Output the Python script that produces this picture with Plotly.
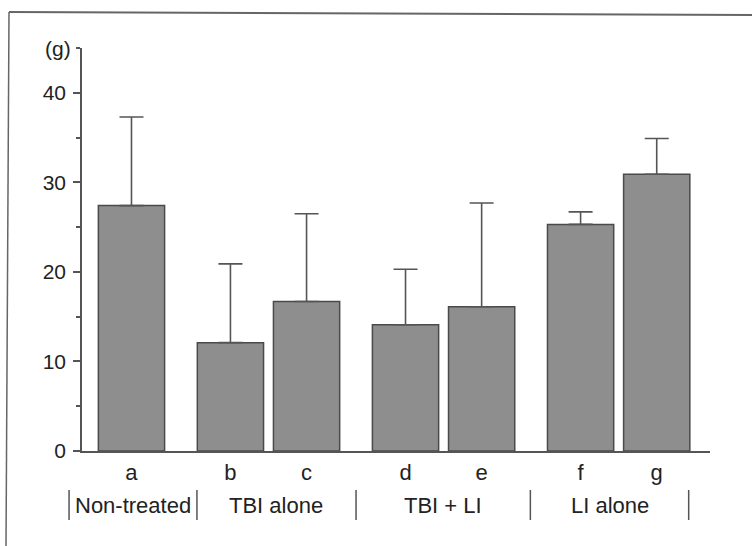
import plotly.graph_objects as go

# ---- data ----
categories = ["a", "b", "c", "d", "e", "f", "g"]
positions = [0.0, 1.3, 2.3, 3.6, 4.6, 5.9, 6.9]
means = [27.4, 12.1, 16.7, 14.1, 16.1, 25.3, 30.9]
sd_plus = [9.9, 8.8, 9.8, 6.2, 11.6, 1.4, 4.0]
groups = ["Non-treated", "TBI alone", "TBI + LI", "LI alone"]
group_bounds = [-0.82, 0.86, 2.95, 5.24, 7.32]   # separator positions (x units)
y_ticks = [0, 10, 20, 30, 40]
y_unit = "(g)"

# ---- layout geometry ----
W, H = 752, 546
ML, MR, MT, MB = 82, 42, 48, 95
X_RANGE = [-0.65, 7.6]
Y_RANGE = [0, 45]
PW, PH = W - ML - MR, H - MT - MB

def px_x(px):
    return (px - ML) / PW

def px_y(py):
    return (H - MB - py) / PH

def xd_to_paper(xd):
    return (xd - X_RANGE[0]) / (X_RANGE[1] - X_RANGE[0])

FONT = "Liberation Sans, Arial, Helvetica, sans-serif"

fig = go.Figure()
fig.add_trace(go.Bar(
    x=positions, y=means, width=[0.87] * len(means),
    marker=dict(color="#8e8e8e", line=dict(color="#4a4a4a", width=1.5)),
    error_y=dict(type="data", array=sd_plus, arrayminus=[0] * len(sd_plus),
                 symmetric=False, color="#555555", thickness=1.6, width=12),
    showlegend=False,
))

shapes = []
# separators between the group labels
for b in group_bounds:
    shapes.append(dict(type="line", xref="paper", yref="paper",
                       x0=xd_to_paper(b), x1=xd_to_paper(b),
                       y0=px_y(490), y1=px_y(520),
                       line=dict(color="#555555", width=1.5)))
# scanned frame (left and top edges)
shapes.append(dict(type="line", xref="paper", yref="paper",
                   x0=px_x(9), x1=px_x(6), y0=px_y(12), y1=px_y(546),
                   line=dict(color="#666666", width=1.5)))
shapes.append(dict(type="line", xref="paper", yref="paper",
                   x0=px_x(9), x1=px_x(752), y0=px_y(12), y1=px_y(15),
                   line=dict(color="#666666", width=1.8)))

annotations = []
for i, g in enumerate(groups):
    mid = (group_bounds[i] + group_bounds[i + 1]) / 2
    annotations.append(dict(text=g, xref="x", yref="paper", x=mid, y=px_y(505),
                            showarrow=False, xanchor="center", yanchor="middle",
                            font=dict(family=FONT, size=22, color="#222222")))
annotations.append(dict(text=y_unit, xref="paper", yref="y", x=px_x(73), y=Y_RANGE[1],
                        showarrow=False, xanchor="right", yanchor="middle",
                        font=dict(family=FONT, size=21, color="#222222")))

fig.update_layout(
    width=W, height=H,
    margin=dict(l=ML, r=MR, t=MT, b=MB, autoexpand=False),
    paper_bgcolor="white", plot_bgcolor="white",
    shapes=shapes, annotations=annotations,
    xaxis=dict(range=X_RANGE, tickvals=positions, ticktext=categories,
               showline=True, linecolor="#555555", linewidth=1.5,
               ticks="", showgrid=False, zeroline=False,
               tickfont=dict(family=FONT, size=22, color="#222222"),
               ticklabelstandoff=1),
    yaxis=dict(range=Y_RANGE, tickvals=y_ticks,
               showline=True, linecolor="#555555", linewidth=1.5,
               ticks="outside", ticklen=7, tickwidth=1.5, tickcolor="#555555",
               minor=dict(dtick=5, ticks="outside", ticklen=4, tickwidth=1.5,
                          tickcolor="#555555", showgrid=False),
               showgrid=False, zeroline=False, ticklabelstandoff=3,
               tickfont=dict(family=FONT, size=21, color="#222222")),
)

fig.write_html("out.html")
